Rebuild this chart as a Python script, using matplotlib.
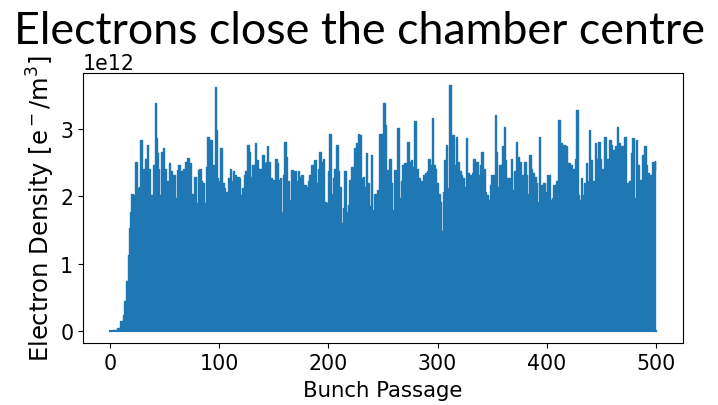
import numpy as np
import matplotlib
matplotlib.use("Agg")
import matplotlib.pyplot as plt

# bunch passage positions and envelope of electron density (units of 1e12 e-/m^3)
bunch = [0, 2, 5, 7.6, 10.7, 12.2, 13.7, 15.3, 16.8, 17.7, 18.6, 19.8, 21.4, 22.3, 23.5, 25.0,
         26.9, 28.4, 29.6, 31.4, 32.7, 34.2, 35.4, 36.6, 38.2, 40.0, 41.2, 42.1, 43.3, 44.3,
         45.8, 47.3, 48.8, 50.4, 51.6, 52.8, 54.3, 55.6, 57.1, 58.6, 60.1, 61.7, 63.2, 65.0,
         66.2, 67.8, 69.6, 71.7, 73.3, 74.8, 76.6, 77.8, 79.4, 80.9, 82.4,
         83.3, 85.5, 87.0, 88.5, 89.4, 90.7, 92.2, 93.7, 95.2, 96.2, 97.4, 98.6, 99.8, 101.3,
         102.9, 104.7, 106.2, 107.1, 108.7, 110.2, 111.4, 112.9, 114.5, 115.7, 116.9, 118.4,
         120.0, 121.5, 123.0, 124.5, 126.1, 127.6, 128.8, 130.3, 131.9, 133.1, 134.3, 135.8,
         137.4, 138.9, 140.1, 141.6, 143.2, 144.4, 145.6, 147.1, 148.7, 150.2, 151.7, 153.2,
         154.8, 156.0, 157.2, 158.7, 160.0, 161.5, 163.0, 164.5,
         166.4, 167.9, 169.4, 170.9, 172.5, 174.0, 175.5, 177.0, 178.6, 180.1, 181.6, 183.2,
         184.7, 186.2, 187.7, 189.3, 190.8, 192.3, 193.8, 195.4, 196.9, 198.4, 199.9, 201.5,
         203.0, 204.5, 206.0, 207.6, 209.1, 210.6, 212.2, 213.7, 215.2, 216.7, 218.3, 219.8,
         221.3, 222.8, 224.4, 225.9, 227.4, 228.9, 230.5, 232.0, 233.5, 235.0, 236.6, 238.1,
         239.6, 241.1, 242.7, 244.2, 245.7, 247.3,
         248.2, 249.4, 250.9, 252.1, 253.4, 254.9, 256.4, 257.9, 259.5, 261.0, 262.5, 264.0,
         265.6, 267.1, 268.6, 270.1, 271.7, 273.2, 274.7, 276.2, 277.8, 279.3, 280.5, 281.7,
         283.3, 284.8, 286.3, 287.8, 289.4, 290.9, 292.4, 294.0, 295.5, 296.7, 298.2, 299.8,
         301.3, 302.8, 304.3, 305.2, 306.8, 308.3, 309.8, 311.4, 312.9, 314.4, 315.9, 317.5,
         319.0, 320.5, 322.0, 323.6, 325.1, 326.6, 328.1, 329.7,
         330.6, 331.8, 333.3, 334.9, 336.4, 337.9, 339.4, 341.0, 342.5, 344.0, 345.5, 347.1,
         348.3, 350.1, 351.6, 352.9, 354.1, 355.6, 357.1, 358.7, 359.9, 361.1, 362.3, 363.6,
         364.8, 366.3, 367.8, 369.4, 370.9, 372.4, 373.9, 375.5, 377.0, 378.5, 380.0, 381.6,
         383.1, 384.6, 386.1, 387.7, 389.2, 390.7, 392.2, 393.5, 395.0, 396.5, 397.7, 399.3,
         400.8, 402.0, 403.5, 404.5, 405.4, 406.9, 408.1, 409.6, 411.2,
         413.0, 414.5, 416.1, 417.6, 419.1, 420.6, 422.2, 423.7, 425.2, 426.7, 428.0, 429.2,
         430.4, 431.9, 433.5, 435.0, 436.5, 438.0, 439.6, 440.8, 442.3, 443.5, 444.8, 446.3,
         447.8, 449.3, 450.2, 451.8, 453.6, 455.1, 456.7, 457.9, 459.4, 460.9, 462.5, 463.7,
         464.9, 466.1, 467.6, 469.2, 470.7, 471.6, 473.1, 474.7, 476.2, 477.7, 479.2, 480.8,
         482.3, 483.8, 485.3, 486.9, 488.4, 489.9, 491.5, 493.0, 494.5, 496.0, 497.5, 498.5,
         499.6, 500]
density = [0.0, 0.01, 0.02, 0.04, 0.14, 0.24, 0.44, 0.74, 1.13, 1.53, 1.77, 2.04, 1.62, 2.02,
           2.51, 2.12, 2.14, 2.83, 2.41, 2.41, 2.56, 2.76, 2.41, 1.90, 2.02, 2.46, 3.38, 2.86,
           2.64, 2.41, 2.02, 2.66, 2.71, 2.41, 2.00, 2.22, 2.49, 2.37, 1.97, 2.32, 1.97, 2.39,
           2.46, 2.37, 2.17, 2.41, 2.51, 2.57, 2.49, 2.04, 2.02, 2.29, 1.90, 2.39, 2.41,
           2.22, 2.19, 1.90, 2.44, 2.88, 2.41, 2.83, 1.82, 2.46, 3.62, 2.98, 2.27, 2.22, 2.71,
           2.19, 2.12, 2.07, 1.58, 2.27, 2.41, 2.22, 2.37, 2.32, 1.72, 2.29, 2.27,
           2.02, 2.12, 2.32, 2.37, 2.76, 2.66, 2.29, 2.46, 2.46, 2.79, 2.54, 2.17,
           2.41, 1.92, 2.61, 2.49, 2.51, 2.74, 2.51, 2.27, 2.24, 2.24, 2.56, 2.49,
           2.24, 2.27, 1.77, 2.32, 2.81, 2.59, 2.22, 1.95,
           2.39, 2.22, 2.37, 2.22, 2.37, 2.29, 2.32, 2.04, 2.17, 2.14, 2.22, 2.32,
           2.46, 2.17, 2.54, 2.19, 2.41, 2.66, 2.51, 2.56, 1.92, 1.90, 2.37, 2.93,
           2.04, 2.27, 2.41, 2.76, 2.37, 2.14, 1.60, 1.82, 2.37, 1.77, 1.87, 2.24,
           2.44, 2.44, 2.71, 2.79, 2.93, 2.91, 2.27, 2.29, 2.14, 2.64, 2.19, 1.85,
           2.61, 1.80, 2.04, 1.85, 2.09, 2.93,
           2.93, 2.02, 3.38, 3.06, 2.39, 2.22, 2.56, 2.19, 1.80, 2.39, 2.02, 3.01,
           1.97, 2.22, 2.46, 2.49, 2.41, 2.81, 2.51, 2.54, 2.44, 3.11, 2.12, 2.41,
           2.27, 2.22, 2.12, 2.32, 2.34, 2.37, 2.56, 2.46, 3.16, 2.46, 2.41, 2.19,
           2.04, 1.92, 1.48, 2.07, 2.54, 2.76, 2.12, 3.65, 2.27, 2.91, 2.46, 2.88,
           2.51, 2.37, 2.32, 2.27, 2.14, 2.86, 2.34, 1.97,
           2.32, 2.34, 2.56, 2.49, 2.51, 2.32, 2.46, 2.66, 2.41, 2.07, 2.02, 1.95,
           2.17, 2.32, 2.32, 3.20, 2.66, 2.14, 2.46, 2.46, 2.74, 3.03, 2.54, 2.27,
           1.90, 2.27, 2.56, 2.09, 2.37, 2.81, 2.59, 2.51, 1.48, 2.32, 2.51, 2.32,
           2.04, 2.61, 2.41, 2.34, 2.29, 2.19, 1.92, 2.88, 2.17, 2.07, 2.19, 2.07,
           2.32, 2.32, 1.95, 1.72, 1.97, 2.17, 2.14, 2.22, 3.13,
           2.79, 2.74, 2.76, 2.74, 1.92, 2.49, 2.46, 2.37, 2.41, 2.56, 3.28, 2.02,
           1.95, 2.27, 2.02, 2.19, 2.49, 2.22, 2.98, 2.54, 1.80, 2.22, 2.79, 2.56,
           2.81, 2.56, 1.87, 2.41, 2.88, 2.56, 2.56, 2.83, 2.76, 2.69, 1.48, 2.74,
           3.03, 2.79, 2.46, 2.74, 2.02, 2.88, 2.17, 2.19, 2.22, 2.64, 2.86, 1.97,
           2.83, 2.46, 2.24, 2.17, 2.61, 2.74, 2.46, 2.34, 2.32, 1.97, 2.51, 2.39,
           2.53, 0.0]

x_ticks = [0, 100, 200, 300, 400, 500]
y_ticks = [0, 1, 2, 3]

plt.rcParams['font.size'] = 14.8

x = np.array(bunch)
y = np.array(density) * 1e12

fig = plt.figure(figsize=(7.18, 4.06), dpi=100)
ax = fig.add_axes([0.1156, 0.1527, 0.8356, 0.665])

ax.fill_between(x, 0, y, step='mid', color='#1f77b4', linewidth=0)
ax.plot(x, y, drawstyle='steps-mid', color='#1f77b4', linewidth=1.0)
ax.plot([0, 500], [0, 0], color='#1f77b4', linewidth=1.5)

ax.set_xlim(-25, 525)
ax.set_ylim(-0.18e12, 3.83e12)
ax.set_xticks(x_ticks)
ax.set_yticks([v * 1e12 for v in y_ticks])
ax.set_xlabel('Bunch Passage', labelpad=5, fontsize=15.3)
ax.set_ylabel('Electron Density [e$^-$/m$^3$]', labelpad=2, fontsize=17.5)

fig.text(0.5, 0.972, 'Electrons close the chamber centre', ha='center', va='top',
         fontsize=32.2, family='Lato')

fig.savefig('out.png', dpi=100)
